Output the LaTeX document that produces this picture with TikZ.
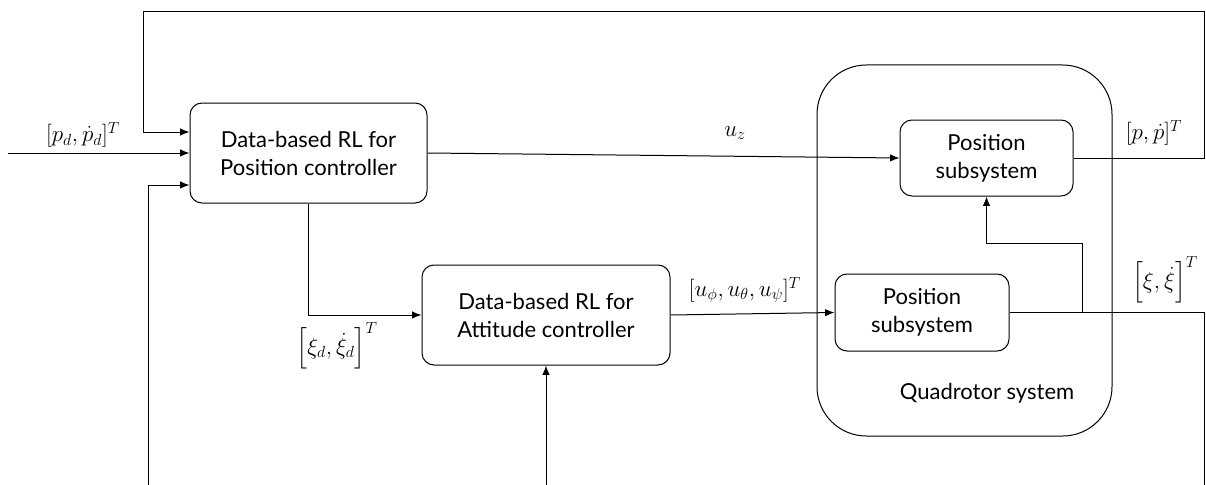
\documentclass[tikz,border=0pt]{standalone}
\usepackage{amsmath}
\usepackage{fontspec}
\setmainfont{Lato}
\usetikzlibrary{arrows.meta,calc}
\begin{document}
\begin{tikzpicture}[x=0.75pt,y=-0.75pt,line width=0.75pt,
  box/.style={draw,rounded corners=9pt,align=center,inner sep=0pt,
    font=\fontsize{16.5}{21}\selectfont},
  lab/.style={font=\fontsize{18}{20}\selectfont,inner sep=0pt},
  arr/.style={-{Latex[length=7pt,width=5.5pt]}}]
\useasboundingbox (0,0) rectangle (1206,485);
% quadrotor system
\node[draw,rounded corners=37pt,minimum width=221.25pt,minimum height=278.25pt] (Q) at (964.5,250.5) {};
\node[inner sep=0pt,font=\fontsize{16.5}{20}\selectfont] (Qt) at (987,393) {Quadrotor system};
% blocks
\node[box,minimum width=177.75pt,minimum height=75pt] (PC) at (308.5,153) {Data-based RL for\\Position controller};
\node[box,minimum width=186pt,minimum height=75pt] (AC) at (546,315) {Data-based RL for\\Attitude controller};
\node[box,minimum width=129.75pt,minimum height=57pt] (PSu) at (986.5,158) {Position\\subsystem};
\node[box,minimum width=130.5pt,minimum height=57.75pt] (PSl) at (922,312.5) {Position\\subsystem};
% coordinates
\coordinate (pin) at (8,153);
\coordinate (fbR) at (1204,158);
\coordinate (fbTR) at (1204,12);
\coordinate (fbTL) at (143,12);
\coordinate (fbB) at (148,485);
\coordinate (acin) at (546,485);
\coordinate (xiR) at (1204,312.5);
\coordinate (xiB) at (1204,485);
\coordinate (br) at (1082,312.5);
\coordinate (brT) at (1082,243);
% connectors
\draw[arr] (pin) -- (PC.west);
\draw[arr] (PSu.east) -- (fbR) -- (fbTR) -- (fbTL) |- ($(PC.west)+(0,-21)$);
\draw[arr] (fbB) |- ($(PC.west)+(0,32)$);
\draw[arr] (PC.east) -- (PSu.west);
\draw[arr] (PC.south) |- (AC.west);
\draw[arr] (AC.east) -- (PSl.west);
\draw[arr] (acin) -- (AC.south);
\draw (PSl.east) -- (xiR) -- (xiB);
\draw[arr] (br) -- (brT) -| (PSu.south);
% labels
\node[lab] (l1) at (83,135) {$[p_d,\dot p_d]^T$};
\node[lab] (l2) at (735,133) {$u_z$};
\node[lab] (l3) at (1154,133) {$[p,\dot p]^T$};
\node[lab] (l4) at (337,346) {$\left[\xi_d,\dot\xi_d\right]^T$};
\node[lab] (l5) at (745,290) {$[u_\phi,u_\theta,u_\psi]^T$};
\node[lab] (l6) at (1165,280) {$\left[\xi,\dot\xi\right]^T$};
\end{tikzpicture}
\end{document}
